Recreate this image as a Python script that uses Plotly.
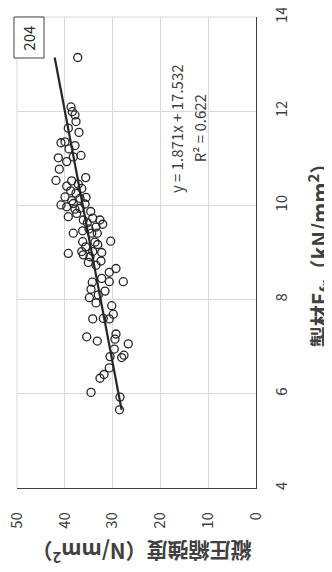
import plotly.graph_objects as go
import numpy as np

# Data: Efr (kN/mm2) and longitudinal compressive strength (N/mm2)
efr = [13.14, 12.09, 11.99, 11.92, 11.78, 11.64, 11.55, 11.33, 11.35, 11.27,
       11.20, 11.06, 11.01, 10.93, 11.03, 10.77, 10.59, 10.53, 10.52, 10.45,
       10.41, 10.36, 10.31, 10.26, 10.18, 10.17, 10.15, 10.10, 10.01, 9.97,
       10.04, 10.03, 9.94, 9.87, 9.76, 9.83, 9.69, 9.73, 9.69, 9.60,
       9.54, 9.63, 9.41, 9.46, 9.41, 9.41, 9.24, 9.23, 9.17, 9.12,
       9.02, 8.98, 9.02, 9.00, 8.95, 8.91, 8.82, 8.79, 8.73, 8.66,
       8.58, 8.45, 8.38, 8.38, 8.37, 8.22, 8.18, 8.10, 8.04, 7.93,
       7.87, 7.69, 7.59, 7.60, 7.59, 7.27, 7.21, 7.16, 7.06, 7.12,
       6.95, 6.79, 6.82, 6.77, 6.55, 6.41, 6.33, 6.03, 5.93, 5.66,
       9.92, 9.50, 9.22]
strength = [37.30, 38.70, 38.43, 37.87, 37.66, 39.27, 37.03, 40.79, 39.96, 37.87,
            39.12, 36.61, 41.36, 39.60, 38.22, 41.15, 35.63, 41.84, 38.56, 37.18,
            39.60, 36.46, 38.77, 37.66, 39.96, 35.56, 36.82, 38.56, 40.79, 39.60,
            38.22, 35.77, 36.82, 34.58, 39.27, 37.51, 36.13, 34.16, 32.64, 32.07,
            33.47, 35.29, 38.22, 36.26, 34.37, 33.20, 30.40, 36.26, 33.12, 35.63,
            36.46, 39.27, 34.16, 32.28, 36.13, 34.73, 32.43, 35.08, 33.47, 29.29,
            30.69, 32.28, 30.69, 27.76, 34.25, 34.52, 31.59, 32.99, 34.87, 33.47,
            30.19, 29.85, 30.69, 31.95, 34.16, 29.29, 35.42, 29.50, 26.72, 33.20,
            29.64, 30.54, 27.62, 28.10, 30.69, 31.80, 32.64, 34.52, 28.45, 28.56,
            37.87, 34.94, 33.68]

slope = 1.871
intercept = 17.532
r2 = 0.622
sample_id = "204"

x_ticks = [0, 10, 20, 30, 40, 50]
y_ticks = [4, 6, 8, 10, 12, 14]

FONT = "Noto Sans CJK JP"
DARK = "#262626"
GRID = "#d9d9d9"
TXT = "#404040"

line_e = np.array([min(efr), max(efr)])
line_s = slope * line_e + intercept

fig = go.Figure()
fig.add_trace(go.Scatter(
    x=strength, y=efr, mode="markers",
    marker=dict(symbol="circle-open", size=8, color=DARK, line=dict(width=1.3, color=DARK)),
    showlegend=False, hoverinfo="skip"))
fig.add_trace(go.Scatter(
    x=line_s, y=line_e, mode="lines",
    line=dict(color=DARK, width=2.2), showlegend=False, hoverinfo="skip"))

# the page body adds an 8px offset, so the figure is 324x564
fig.update_layout(
    width=324, height=564,
    margin=dict(l=9, r=76, t=9, b=84, autoexpand=False),
    paper_bgcolor="white", plot_bgcolor="white",
    font=dict(family=FONT, color=TXT, size=15),
    xaxis=dict(range=[50, 0], tickvals=x_ticks, ticktext=[str(v) for v in x_ticks],
               tickangle=-90, showgrid=True, gridcolor=GRID, gridwidth=1,
               zeroline=False, showline=True, linecolor=TXT, linewidth=1.2,
               ticks="", ticklabelstandoff=17, automargin=False,
               ticklabeloverflow="allow",
               tickfont=dict(size=15, color=TXT)),
    yaxis=dict(range=[4, 14], tickvals=y_ticks, ticktext=[str(v) for v in y_ticks],
               side="right", tickangle=-90, showgrid=True, gridcolor=GRID, gridwidth=1,
               zeroline=False, showline=True, linecolor=TXT, linewidth=1.2,
               ticks="", ticklabelstandoff=12, automargin=False,
               ticklabeloverflow="allow",
               tickfont=dict(size=15, color=TXT)),
)

# the top and left border are light grid lines
fig.add_shape(type="line", xref="paper", yref="paper", x0=0, x1=1, y0=1, y1=1,
              line=dict(color=GRID, width=1))
fig.add_shape(type="line", xref="paper", yref="paper", x0=0, x1=0, y0=0, y1=1,
              line=dict(color=GRID, width=1))

# label box
fig.add_shape(type="rect", xref="paper", yref="paper", x0=-0.0126, x1=0.113,
              y0=0.913, y1=1.0, line=dict(color=TXT, width=1), fillcolor="white")

common = dict(xref="paper", yref="paper", showarrow=False,
              xanchor="center", yanchor="middle")
fig.add_annotation(x=1.264, y=0.505,
                   text="<b>製材E<sub>fr</sub>（kN/mm<sup>2</sup>）</b>",
                   textangle=-90, font=dict(size=21, color=TXT, family=FONT), **common)
fig.add_annotation(x=0.52, y=-0.138,
                   text="<b>縦圧縮強度（N/mm<sup>2</sup>）</b>",
                   textangle=180, font=dict(size=21, color=TXT, family=FONT), **common)
fig.add_annotation(x=0.665, y=0.764,
                   text=f"y = {slope:.3f}x + {intercept:.3f}",
                   textangle=-90, font=dict(size=15, color=TXT, family=FONT), **common)
fig.add_annotation(x=0.762, y=0.764,
                   text=f"R² = {r2:.3f}",
                   textangle=-90, font=dict(size=15, color=TXT, family=FONT), **common)
fig.add_annotation(x=0.050, y=0.956,
                   text=sample_id, textangle=-90,
                   font=dict(size=15, color=DARK, family=FONT), **common)

fig.write_html("out.html")
